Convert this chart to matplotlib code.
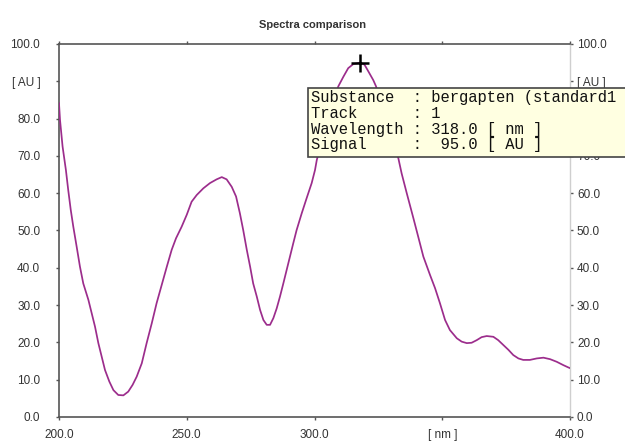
import numpy as np
import matplotlib
matplotlib.use("Agg")
import matplotlib.pyplot as plt
from matplotlib.patches import Rectangle

# Spectrum read along the track (wavelength in nm, signal in AU)
wavelength = [200.0, 200.4, 201.4, 202.7, 203.6, 204.6, 205.6, 206.9, 208.2, 209.5,
              211.5, 212.8, 214.1, 215.4, 216.7, 218.0, 219.7, 221.3, 223.2, 225.2,
              227.1, 228.8, 230.4, 232.4, 234.3, 236.3, 238.2, 240.2, 242.2, 244.1,
              245.8, 248.0, 250.0, 251.9, 253.9, 256.5, 259.1, 261.7, 263.7, 265.6,
              267.6, 269.3, 270.8, 272.1, 273.5, 274.8, 276.0, 277.4, 278.7, 280.0,
              281.3, 282.6, 283.9, 285.2, 286.5, 287.8, 289.1, 290.4, 291.7, 293.0,
              295.0, 296.9, 298.9, 300.2, 300.9, 305.0, 309.3, 311.3, 313.2, 315.2,
              318.0, 319.6, 321.1, 323.0, 324.1, 328.0, 332.8, 334.1, 336.1, 338.7,
              340.6, 342.6, 345.2, 347.2, 349.1, 351.1, 353.0, 355.7, 357.6, 359.6,
              361.5, 363.5, 365.4, 367.4, 370.0, 371.9, 373.9, 375.9, 377.8, 379.8,
              381.7, 384.3, 387.0, 389.6, 392.2, 394.8, 397.4, 399.3, 400.0]
signal = [84.1, 79.6, 72.5, 66.2, 60.9, 55.5, 51.0, 45.7, 40.3, 35.8,
          31.4, 27.8, 24.2, 19.8, 16.2, 12.6, 9.5, 7.2, 5.9, 5.8,
          6.8, 8.6, 10.8, 14.4, 19.8, 25.1, 30.5, 35.4, 40.3, 44.8,
          47.9, 51.0, 54.2, 57.7, 59.5, 61.3, 62.7, 63.7, 64.3, 63.7,
          61.7, 59.1, 54.6, 50.1, 44.8, 40.3, 35.8, 32.3, 28.7, 26.0,
          24.7, 24.7, 26.5, 29.1, 32.3, 35.8, 39.4, 43.0, 46.6, 50.1,
          54.6, 58.6, 62.7, 66.2, 68.9, 79.5, 88.6, 91.2, 93.5, 94.6,
          95.0, 94.4, 92.6, 90.3, 88.6, 79.0, 69.4, 65.3, 60.0, 53.3,
          48.3, 43.0, 38.1, 34.5, 30.5, 26.0, 23.3, 21.1, 20.2, 19.8,
          19.9, 20.6, 21.4, 21.7, 21.5, 20.6, 19.3, 18.0, 16.6, 15.7,
          15.3, 15.3, 15.7, 15.9, 15.5, 14.8, 13.9, 13.3, 13.1]

peak_nm = 318.0
peak_au = 95.0
substance = "bergapten (standard1"
track = 1

y_ticks = [0, 10, 20, 30, 40, 50, 60, 70, 80, 90, 100]
y_labels = ["0.0", "10.0", "20.0", "30.0", "40.0", "50.0", "60.0", "70.0", "80.0", "[ AU ]", "100.0"]
x_ticks = [200, 250, 300, 350, 400]
x_labels = ["200.0", "250.0", "300.0", "[ nm ]", "400.0"]

fig = plt.figure(figsize=(6.25, 4.48), dpi=100)
ax = fig.add_axes([0.0944, 0.0692, 0.8176, 0.8328])

ax.plot(wavelength, signal, color="#9c2d8c", lw=1.25, zorder=3)
ax.plot([peak_nm], [peak_au], marker="+", color="black", ms=13, mew=1.8, zorder=4,
        clip_on=False)

ax.set_xlim(200, 400)
ax.set_ylim(0, 100)

tick_font = dict(family="Liberation Sans", size=8.5)
ax.set_xticks(x_ticks)
ax.set_xticklabels(x_labels, **tick_font)
ax.set_yticks(y_ticks)
ax.set_yticklabels(y_labels, **tick_font)

ax.tick_params(axis="x", direction="out", length=2.5, width=1, color="#555555",
               labelcolor="#333333", pad=6, top=True)
ax.tick_params(axis="y", direction="out", length=2.5, width=1, color="#555555",
               labelcolor="#333333", pad=11, right=True, labelright=True)

# right-hand labels sit closer to the frame than the left ones
right_tf = ax.get_yaxis_text2_transform(5)[0]
for t in ax.yaxis.get_major_ticks():
    t.label2.set_fontfamily("Liberation Sans")
    t.label2.set_fontsize(8.5)
    t.label2.set_color("#333333")
    t.label2.set_transform(right_tf)

for side in ["left", "bottom", "top"]:
    ax.spines[side].set_color("#555555")
    ax.spines[side].set_linewidth(1.2)
ax.spines["right"].set_color("#cfcfcf")
ax.spines["right"].set_linewidth(1.0)

fig.text(0.5, 0.944, "Spectra comparison", ha="center", va="center",
         family=["Liberation Sans Narrow", "Liberation Sans"], weight="bold",
         size=8, color="#333333")

# info box next to the cursor
box = Rectangle((0.4928, 0.6496), 0.52, 0.154, transform=fig.transFigure,
                facecolor="#ffffe1", edgecolor="#444444", lw=1.2, zorder=10)
fig.patches.append(box)
info = [
    "Substance  : " + substance,
    "Track      : %d" % track,
    "Wavelength : %5.1f [ nm ]" % peak_nm,
    "Signal     : %5.1f [ AU ]" % peak_au,
]
for i, line in enumerate(info):
    fig.text(0.4976, 1 - (97 + 16 * i) / 448, line, ha="left", va="center",
             family="Liberation Mono", size=11.2, color="#111111", zorder=11)

fig.savefig("out.png", dpi=100)
